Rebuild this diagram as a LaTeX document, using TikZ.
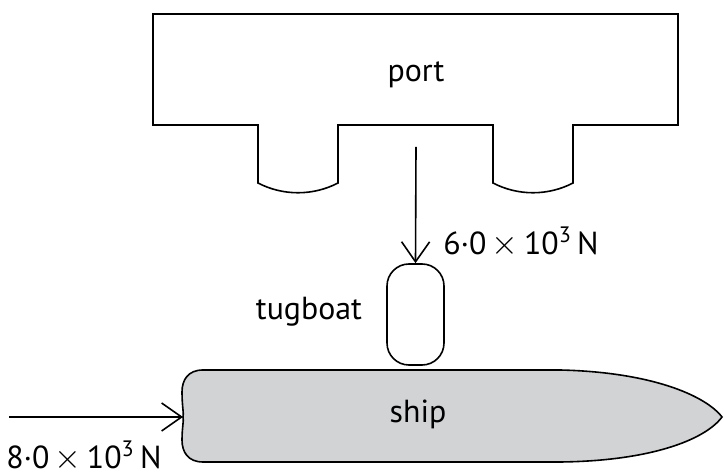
\documentclass[tikz,border=0pt]{standalone}
\usepackage{fontspec}
\setmainfont{PT Sans}
\usetikzlibrary{arrows.meta}
\definecolor{hullgray}{RGB}{210,211,213}

\begin{document}
\begin{tikzpicture}[x=0.5bp, y=-0.5bp, line width=0.8bp,
        >={Straight Barb[length=10bp,width=14bp]},
        every node/.style={font=\fontsize{16}{19}\selectfont}]

        \useasboundingbox (0,0) rectangle (724,475);

        % port with two berths
        \draw (153,14) -- (678,14) -- (678,125) -- (573,125) -- (573,183)
            .. controls (548,196) and (518,196) .. (493,183) -- (493,125)
            -- (338,125) -- (338,183)
            .. controls (313,196) and (283,196) .. (258,183) -- (258,125)
            -- (153,125) -- cycle;
        \node[anchor=base] (port) at (416,82) {port};

        % ship hull
        \draw[fill=hullgray] (203,370) -- (560,370)
            .. controls (650,372) and (705,395) .. (722,417)
            .. controls (705,440) and (650,461) .. (560,462) -- (203,462)
            .. controls (188,462) and (182,452) .. (182,440)
            .. controls (182,428) and (184,420) .. (183,417)
            .. controls (184,414) and (182,406) .. (182,392)
            .. controls (182,380) and (188,370) .. cycle;
        \node[anchor=base] (ship) at (418,423) {ship};
        \coordinate (stern) at (183,417);

        % tugboat
        \node[draw, fill=white, rounded corners=11bp, minimum width=28.5bp,
              minimum height=50.5bp] (tug) at (415.5,314.5) {};
        \node[anchor=base] (tuglabel) at (309,320) {tugboat};

        % forces
        \coordinate (pull) at (416,147);
        \draw[->] (pull) -- (tug.north);
        \node[anchor=base] (pulllabel) at (521,255)
            {6·0\,$\times$\,10\textsuperscript{3}\,N};

        \coordinate (push) at (9,417);
        \draw[->] (push) -- (stern);
        \node[anchor=base] (pushlabel) at (84,469)
            {8·0\,$\times$\,10\textsuperscript{3}\,N};

\end{tikzpicture}
\end{document}
